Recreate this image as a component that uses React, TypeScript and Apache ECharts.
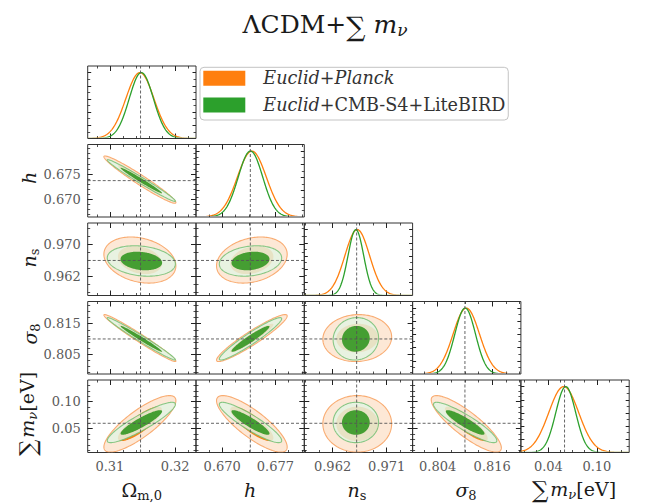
import React, { useEffect, useRef } from 'react';
import * as echarts from 'echarts';

// ---------------- data ----------------
const PARAM_NAMES = ['Omega_m0', 'h', 'n_s', 'sigma_8', 'sum_mnu'];
const RANGE_MIN = [0.3066, 0.66655, 0.9573, 0.7985, 0.006];
const RANGE_MAX = [0.3232, 0.6808, 0.9753, 0.8223, 0.14];
const FIDUCIAL = [0.3147, 0.6737, 0.966, 0.81, 0.06];

const X_TICKS = [[0.31, 0.32], [0.67, 0.677], [0.962, 0.971], [0.804, 0.816], [0.04, 0.1]];
const X_TICK_LABELS = [['0.31', '0.32'], ['0.670', '0.677'], ['0.962', '0.971'], ['0.804', '0.816'], ['0.04', '0.10']];
const X_MINOR_STEP = [0.002, 0.00175, 0.00225, 0.003, 0.015];
const Y_TICKS = [[], [0.67, 0.675], [0.962, 0.97], [0.805, 0.815], [0.05, 0.1]];
const Y_TICK_LABELS = [[], ['0.670', '0.675'], ['0.962', '0.970'], ['0.805', '0.815'], ['0.05', '0.10']];
const Y_MINOR_STEP = [0, 0.001, 0.002, 0.002, 0.01];
const DIAG_Y_MAX = 1.1;
const DIAG_TICKS = [0.2, 0.4, 0.6, 0.8, 1.0];
const DIAG_MINOR = [0.1, 0.3, 0.5, 0.7, 0.9];

// Euclid+Planck
const PLANCK_MEAN = [0.3146, 0.6739, 0.9661, 0.8103, 0.059];
const PLANCK_SIGMA_1D = [0.00215, 0.0019, 0.00205, 0.0029, 0.0185];
const PLANCK_SIGMA_2D = [0.00222, 0.00187, 0.0023, 0.0031, 0.021];
// Euclid+CMB-S4+LiteBIRD
const S4_MEAN = [0.31482, 0.67372, 0.96587, 0.81005, 0.0615];
const S4_SIGMA_1D = [0.00185, 0.00161, 0.0013, 0.00227, 0.0123];
const S4_SIGMA_2D = [0.0021, 0.00165, 0.00152, 0.0028, 0.015];

// pairs [row param, column param]
const PAIRS = [[1, 0], [2, 0], [2, 1], [3, 0], [3, 1], [3, 2], [4, 0], [4, 1], [4, 2], [4, 3]];
const PLANCK_RHO = [-0.97, -0.25, 0.25, -0.98, 0.94, 0.05, 0.82, -0.82, 0.0, -0.85];
const S4_RHO = [-0.985, -0.2, 0.2, -0.985, 0.95, 0.05, 0.9, -0.9, 0.0, -0.9];

const LEGEND_NAMES = ['Euclid+Planck', 'Euclid+CMB-S4+LiteBIRD'];

// ---------------- style ----------------
const FONT = '"DejaVu Serif", serif';
const COL_LEFT = [87.7, 196, 304.3, 412.6, 520.9];
const ROW_TOP = [66, 144.5, 223, 301.5, 380];
const PW = 108.3;
const PH = 72.5;
const K_OUT = Math.sqrt(6.18);
const K_IN = Math.sqrt(2.3);

const DATASETS = [
  {
    name: LEGEND_NAMES[0], color: '#ff7f0e', line: '#ff7f0e',
    mean: PLANCK_MEAN, s1: PLANCK_SIGMA_1D, s2: PLANCK_SIGMA_2D, rho: PLANCK_RHO,
    outerFill: '#fde8d6', outerStroke: '#f9ac72', innerFill: '#f98016', opacity: 1,
  },
  {
    name: LEGEND_NAMES[1], color: '#2ca02c', line: '#2ca02c',
    mean: S4_MEAN, s1: S4_SIGMA_1D, s2: S4_SIGMA_2D, rho: S4_RHO,
    outerFill: '#e4f3e3', outerStroke: '#74c074', innerFill: '#3c9a2a', opacity: 0.85,
  },
];

let measureCanvas: HTMLCanvasElement | null = null;
function measure(text: string, size: number, italic?: boolean) {
  if (!measureCanvas) measureCanvas = document.createElement('canvas');
  const ctx = measureCanvas.getContext('2d')!;
  ctx.font = `${italic ? 'italic ' : ''}${size}px "DejaVu Serif"`;
  return ctx.measureText(text).width;
}

type Piece = { t: string; size: number; it?: boolean; dy?: number; dx?: number };

function mathLabel(pieces: Piece[], cx: number, cy: number, rotate = false, color = '#1a1a1a') {
  const widths = pieces.map((p) => measure(p.t, p.size, p.it));
  const total = widths.reduce((a, b) => a + b, 0) + pieces.reduce((a, p) => a + (p.dx || 0), 0);
  let x = -total / 2;
  const children = pieces.map((p, k) => {
    x += p.dx || 0;
    const el = {
      type: 'text',
      x,
      y: p.dy || 0,
      style: {
        text: p.t, fontSize: p.size, fontFamily: FONT, fontStyle: p.it ? 'italic' : 'normal',
        fill: color, align: 'left', verticalAlign: 'middle', textAlign: 'left', textVerticalAlign: 'middle',
      },
    };
    x += widths[k];
    return el;
  });
  return { type: 'group', x: cx, y: cy, rotation: rotate ? Math.PI / 2 : 0, children, silent: true };
}

function minorValues(base: number, step: number, lo: number, hi: number) {
  const out: number[] = [];
  if (!step) return out;
  for (let k = -40; k <= 40; k++) {
    const v = Math.round((base + k * step) * 1e7) / 1e7;
    if (v > lo + 1e-9 && v < hi - 1e-9) out.push(v);
  }
  return out;
}

function makeAxis(g: number, pos: string, min: number, max: number, ticks: number[], len: number, labels: string[] | null) {
  const ax: any = {
    type: 'value', gridIndex: g, position: pos, min, max,
    axisLine: { show: false, onZero: false },
    splitLine: { show: false },
    minorTick: { show: false },
    axisTick: ticks.length
      ? { show: true, inside: true, length: len, customValues: ticks, lineStyle: { color: '#222', width: len > 3 ? 1 : 0.8 } }
      : { show: false },
    axisLabel: { show: false },
    axisPointer: { show: false },
    silent: true,
  };
  if (labels && ticks.length) {
    ax.axisLabel = {
      show: true, customValues: ticks, margin: 7, color: '#5a5a5a', fontSize: 13, fontFamily: FONT,
      formatter: (v: number) => {
        const k = ticks.findIndex((t) => Math.abs(t - v) < 1e-9);
        return k >= 0 ? labels[k] : '';
      },
    };
  }
  return ax;
}

function buildOption() {
  const grid: any[] = [];
  const xAxis: any[] = [];
  const yAxis: any[] = [];
  const series: any[] = [];
  let g = 0;
  for (let i = 0; i < 5; i++) {
    for (let j = 0; j <= i; j++) {
      grid.push({
        left: COL_LEFT[j], top: ROW_TOP[i], width: PW, height: PH, show: true,
        borderColor: '#333', borderWidth: 1, backgroundColor: 'transparent', containLabel: false,
      });
      const xmin = RANGE_MIN[j], xmax = RANGE_MAX[j];
      const diag = i === j;
      const ymin = diag ? 0 : RANGE_MIN[i];
      const ymax = diag ? DIAG_Y_MAX : RANGE_MAX[i];
      const xMaj = X_TICKS[j];
      const xMin = minorValues(xMaj[0], X_MINOR_STEP[j], xmin, xmax);
      const yMaj = diag ? DIAG_TICKS : Y_TICKS[i];
      const yMin = diag ? DIAG_MINOR : minorValues(Y_TICKS[i][0], Y_MINOR_STEP[i], ymin, ymax);
      xAxis.push(makeAxis(g, 'bottom', xmin, xmax, xMaj, 5, i === 4 ? X_TICK_LABELS[j] : null));
      xAxis.push(makeAxis(g, 'top', xmin, xmax, xMaj, 5, null));
      xAxis.push(makeAxis(g, 'bottom', xmin, xmax, xMin, 2.5, null));
      xAxis.push(makeAxis(g, 'top', xmin, xmax, xMin, 2.5, null));
      yAxis.push(makeAxis(g, 'left', ymin, ymax, yMaj, diag ? 3.5 : 5, !diag && j === 0 ? Y_TICK_LABELS[i] : null));
      yAxis.push(makeAxis(g, 'right', ymin, ymax, yMaj, diag ? 3.5 : 5, null));
      yAxis.push(makeAxis(g, 'left', ymin, ymax, yMin, 2.5, null));
      yAxis.push(makeAxis(g, 'right', ymin, ymax, yMin, 2.5, null));
      const xa = 4 * g, ya = 4 * g;

      if (diag) {
        DATASETS.forEach((ds) => {
          series.push({
            type: 'custom', name: ds.name, xAxisIndex: xa, yAxisIndex: ya, silent: true,
            itemStyle: { color: ds.color },
            data: [[ds.mean[j], ds.s1[j]]],
            renderItem: (params: any, api: any) => {
              const m = api.value(0), s = api.value(1);
              const pts: number[][] = [];
              for (let k = 0; k <= 240; k++) {
                const x = xmin + ((xmax - xmin) * k) / 240;
                pts.push(api.coord([x, Math.exp(-0.5 * ((x - m) / s) ** 2)]));
              }
              const cs = params.coordSys;
              return {
                type: 'group',
                clipPath: { type: 'rect', shape: { x: cs.x, y: cs.y - 2, width: cs.width, height: cs.height + 1 } },
                children: [{ type: 'polyline', shape: { points: pts }, style: { stroke: ds.line, lineWidth: 1.3, fill: 'none' } }],
              };
            },
          });
        });
        series.push({
          type: 'line', xAxisIndex: xa, yAxisIndex: ya, silent: true, symbol: 'none', z: 5,
          data: [[FIDUCIAL[j], ymin], [FIDUCIAL[j], ymax]],
          lineStyle: { type: [3, 2], color: '#555', width: 0.9 },
        });
      } else {
        const p = PAIRS.findIndex((q) => q[0] === i && q[1] === j);
        DATASETS.forEach((ds) => {
          series.push({
            type: 'custom', name: ds.name, xAxisIndex: xa, yAxisIndex: ya, silent: true,
            itemStyle: { color: ds.color },
            data: [[ds.mean[j], ds.mean[i], ds.s2[j], ds.s2[i], ds.rho[p]]],
            renderItem: (params: any, api: any) => {
              const mx = api.value(0), my = api.value(1), sx = api.value(2), sy = api.value(3), r = api.value(4);
              const q = Math.sqrt(1 - r * r);
              const ring = (kk: number) => {
                const pts: number[][] = [];
                for (let k = 0; k < 160; k++) {
                  const t = (2 * Math.PI * k) / 160;
                  pts.push(api.coord([mx + kk * sx * Math.cos(t), my + kk * sy * (r * Math.cos(t) + q * Math.sin(t))]));
                }
                return pts;
              };
              const cs = params.coordSys;
              return {
                type: 'group',
                clipPath: { type: 'rect', shape: { x: cs.x, y: cs.y, width: cs.width, height: cs.height } },
                children: [
                  { type: 'polygon', shape: { points: ring(K_OUT) }, style: { fill: ds.outerFill, stroke: ds.outerStroke, lineWidth: 1.1, opacity: ds.opacity } },
                  { type: 'polygon', shape: { points: ring(K_IN) }, style: { fill: ds.innerFill, stroke: 'none', opacity: ds.opacity === 1 ? 1 : 0.95 } },
                ],
              };
            },
          });
        });
        series.push({
          type: 'line', xAxisIndex: xa, yAxisIndex: ya, silent: true, symbol: 'none', z: 5,
          data: [[FIDUCIAL[j], ymin], [FIDUCIAL[j], ymax]],
          lineStyle: { type: [3, 2], color: '#555', width: 0.9 },
        });
        series.push({
          type: 'line', xAxisIndex: xa, yAxisIndex: ya, silent: true, symbol: 'none', z: 5,
          data: [[xmin, FIDUCIAL[i]], [xmax, FIDUCIAL[i]]],
          lineStyle: { type: [3, 2], color: '#555', width: 0.9 },
        });
      }
      g++;
    }
  }

  const S = 19;
  const SS = 13;
  const graphic = [
    mathLabel([
      { t: 'ΛCDM+', size: 25 },
      { t: '∑', size: 27, dy: 2 },
      { t: ' m', size: 25, it: true },
      { t: 'ν', size: 17, it: true, dy: 6 },
    ], 325, 24),
    // row labels
    mathLabel([{ t: 'h', size: S, it: true }], 29, 178, true),
    mathLabel([{ t: 'n', size: S, it: true }, { t: 's', size: SS, dy: 5 }], 29, 258, true),
    mathLabel([{ t: 'σ', size: S, it: true }, { t: '8', size: SS, dy: 5 }], 30, 334, true),
    mathLabel([
      { t: '∑', size: 23, dy: 1 }, { t: 'm', size: S, it: true, dx: 2 }, { t: 'ν', size: SS, it: true, dy: 5 }, { t: '[eV]', size: S },
    ], 27, 414, true),
    // column labels
    mathLabel([{ t: 'Ω', size: S }, { t: 'm,0', size: SS, dy: 5 }], 141.7, 490),
    mathLabel([{ t: 'h', size: S, it: true }], 250, 490),
    mathLabel([{ t: 'n', size: S, it: true }, { t: 's', size: SS, dy: 5 }], 357, 490),
    mathLabel([{ t: 'σ', size: S, it: true }, { t: '8', size: SS, dy: 5 }], 466, 490),
    mathLabel([
      { t: '∑', size: 23, dy: 1 }, { t: 'm', size: S, it: true, dx: 2 }, { t: 'ν', size: SS, it: true, dy: 5 }, { t: '[eV]', size: S },
    ], 574, 489),
  ];

  return {
    animation: false,
    backgroundColor: '#ffffff',
    grid, xAxis, yAxis, series, graphic,
    legend: {
      orient: 'vertical', left: 200, top: 67.3,
      data: LEGEND_NAMES, icon: 'rect', itemWidth: 42, itemHeight: 15, itemGap: 4.7,
      padding: [0, 3, 4, 3.3],
      borderColor: '#c4c4c4', borderWidth: 1, borderRadius: 4, backgroundColor: '#ffffff',
      selectedMode: false,
      formatter: (name: string) => (name === LEGEND_NAMES[0]
        ? '{ip|Euclid}{rm|+}{it|Planck}'
        : '{ip|Euclid}{rm|+CMB-S4+LiteBIRD}'),
      textStyle: {
        fontFamily: FONT, fontSize: 17.6, color: '#333', lineHeight: 22,
        rich: {
          ip: { fontFamily: FONT, fontSize: 17.6, fontStyle: 'italic', color: '#333', padding: [0, 0, 0, 13] },
          it: { fontFamily: FONT, fontSize: 17.6, fontStyle: 'italic', color: '#333' },
          rm: { fontFamily: FONT, fontSize: 17.6, color: '#333' },
        },
      },
    },
  };
}

export default function App() {
  const ref = useRef<HTMLDivElement>(null);
  useEffect(() => {
    if (!ref.current) return;
    const chart = echarts.init(ref.current, undefined, { renderer: 'svg' });
    chart.setOption(buildOption() as any);
    return () => chart.dispose();
  }, []);
  return <div ref={ref} style={{ position: 'fixed', left: 0, top: 0, width: 646, height: 504, background: '#fff' }} />;
}
